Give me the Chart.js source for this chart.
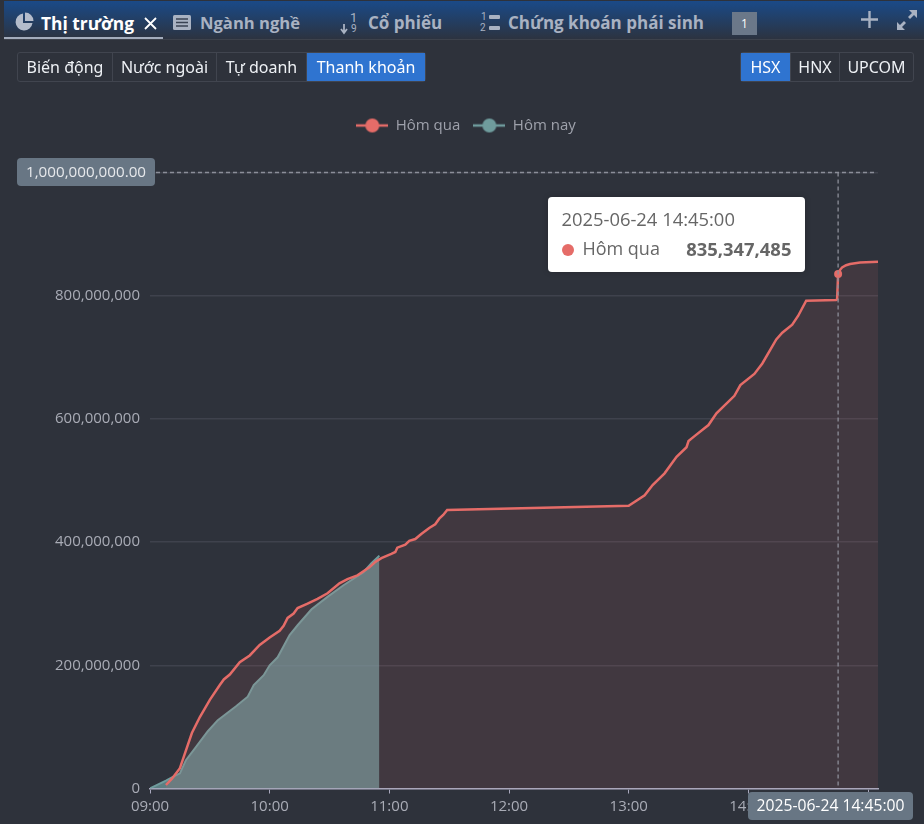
<!DOCTYPE html>
<html lang="vi">
<head>
    <meta charset="UTF-8">
    <title>Thanh khoản</title>
    <style>
        html, body { margin: 0; padding: 0; }
        body {
            width: 924px;
            height: 824px;
            overflow: hidden;
            position: relative;
            background: #2e323b;
            font-family: 'Open Sans', sans-serif;
        }
        #chartBox { position: absolute; left: 0; top: 0; width: 924px; height: 824px; }

        .topbar {
            position: absolute;
            left: 4px; right: 0; top: 1px;
            height: 38px;
            background: linear-gradient(#1a4a88, #2c3340);
            border-bottom: 1px solid #3d424c;
        }
        .tab {
            position: absolute;
            top: 1px;
            height: 38px;
            line-height: 44px;
            font-weight: bold;
            font-size: 17px;
            color: #a9b2c2;
            white-space: nowrap;
        }
        .tab.active { color: #fff; }
        .underline { position: absolute; left: 4px; top: 37px; width: 159px; height: 2px; background: #a3acbc; }
        .icon { position: absolute; }
        .badge {
            position: absolute; left: 732px; top: 12px; width: 25px; height: 23px;
            background: #6b7889; color: #fff; font-size: 12px; line-height: 23px; text-align: center;
        }

        .btns {
            position: absolute;
            top: 52px;
            height: 28px;
            display: flex;
            border: 1px solid #41454f;
            border-radius: 3px;
            font-family: 'Noto Sans', sans-serif;
            font-size: 16px;
            line-height: 29px;
            color: #eef1f5;
        }
        .btns span { text-align: center; border-left: 1px solid #41454f; box-sizing: border-box; white-space: nowrap; }
        .btns span:first-child { border-left: 0; }
        .btns span.on { background: #2f74d0; color: #fff; }

        #tip {
            position: absolute;
            background: #fff;
            border-radius: 4px;
            width: 257px;
            height: 75px;
            color: #666;
            font-size: 18.4px;
            box-shadow: 0 0 6px rgba(0,0,0,0.2);
        }
        #tip .t { position: absolute; left: 13px; top: 9px; white-space: nowrap; }
        #tip .dot { position: absolute; left: 14px; top: 47px; width: 12px; height: 12px; border-radius: 50%; background: #e56c68; }
        #tip .n { position: absolute; left: 34px; top: 39px; white-space: nowrap; font-size: 18px; }
        #tip .v { position: absolute; right: 14px; top: 39px; font-weight: bold; white-space: nowrap; }
    </style>
    <script src="https://cdn.jsdelivr.net/npm/chart.js@4/dist/chart.umd.js"></script>
</head>
<body>
    <div id="chartBox"><canvas id="liquidityChart" width="924" height="824"></canvas></div>

    <div class="topbar"></div>
    <div class="underline"></div>

    <svg class="icon" style="left:14px;top:12px" width="20" height="20" viewBox="0 0 20 20"><path d="M9 1.5a8.5 8.5 0 1 0 9.500 9.500H9z" fill="#b4bccb"/><path d="M11 0.5a8.5 8.5 0 0 1 8.500 8.500H11z" fill="#b4bccb"/></svg>
    <div class="tab active" style="left:41px;font-size:17.4px">Thị trường</div>
    <svg class="icon" style="left:144px;top:17px" width="13" height="13" viewBox="0 0 13 13"><path d="M1 1l11 11M12 1L1 12" stroke="#fff" stroke-width="1.8"/></svg>

    <svg class="icon" style="left:172px;top:14px" width="20" height="17" viewBox="0 0 20 17"><rect x="1" y="1" width="18" height="15" rx="1.5" fill="#a9b2c2"/><path d="M4 5h12M4 8.500h12M4 12h12" stroke="#3a4353" stroke-width="1.4"/></svg>
    <div class="tab" style="left:200px;font-size:16.6px">Ngành nghề</div>

    <svg class="icon" style="left:339px;top:11px" width="20" height="24" viewBox="0 0 20 24"><path d="M5 13v8M2 18l3 4 3-4" stroke="#a9b2c2" stroke-width="1.8" fill="none"/></svg>
    <div style="position:absolute;left:350px;top:10px;font:13px Roboto,sans-serif;color:#a9b2c2">1</div>
    <div style="position:absolute;left:351px;top:23px;font:10px Roboto,sans-serif;color:#a9b2c2">9</div>
    <div class="tab" style="left:368px">Cổ phiếu</div>

    <div style="position:absolute;left:481px;top:11px;font:10px Roboto,sans-serif;color:#a9b2c2">1</div>
    <div style="position:absolute;left:480px;top:22px;font:10px Roboto,sans-serif;color:#a9b2c2">2</div>
    <svg class="icon" style="left:488px;top:14px" width="12" height="17" viewBox="0 0 12 17"><rect x="1" y="1" width="11" height="4" rx="1" fill="#a9b2c2"/><rect x="1" y="12" width="11" height="4" rx="1" fill="#a9b2c2"/></svg>
    <div class="tab" style="left:508px">Chứng khoán phái sinh</div>
    <div class="badge">1</div>

    <svg class="icon" style="left:860px;top:10px" width="19" height="19" viewBox="0 0 19 19"><path d="M9.500 1v17M1 9.500h17" stroke="#a9b2c2" stroke-width="2.400"/></svg>
    <svg class="icon" style="left:896px;top:9px" width="22" height="22" viewBox="0 0 22 22"><path d="M13 1h8v8l-3-3-4 4-2-2 4-4zM1 21v-8l3 3 4-4 2 2-4 4 3 3z" fill="#a9b2c2"/></svg>

    <div class="btns" style="left:17px">
        <span style="width:94px">Biến động</span><span style="width:104px">Nước ngoài</span><span style="width:90px">Tự doanh</span><span class="on" style="width:119px">Thanh khoản</span>
    </div>
    <div class="btns" style="left:740px">
        <span class="on" style="width:49px">HSX</span><span style="width:49px">HNX</span><span style="width:74px">UPCOM</span>
    </div>

    <div id="tip" style="display:none">
        <div class="t"></div>
        <div class="dot"></div>
        <div class="n"></div>
        <div class="v"></div>
    </div>

    <script>
        const sessionDate = '2025-06-24';
        const hoverTime = '14:45';
        const axisEnd = '15:05';
        const yesterdayName = 'Hôm qua';
        const todayName = 'Hôm nay';

        const yesterdayTimes = ['09:08','09:11','09:15','09:17','09:21','09:25','09:30','09:35','09:37','09:40','09:45','09:50','09:55','10:00','10:05','10:07','10:09','10:12','10:14','10:19','10:24','10:29','10:35','10:39','10:44','10:50','10:53','10:56','11:01','11:03','11:04','11:08','11:10','11:13','11:16','11:20','11:23','11:25','11:27','11:29','13:00','13:08','13:12','13:18','13:24','13:29','13:30','13:33','13:40','13:44','13:53','13:56','14:03','14:07','14:14','14:17','14:22','14:25','14:29','14:44','14:44:30','14:45','14:46','14:47','14:49','14:51','14:56','15:05'];
        const yesterdayValues = [5700000,16000000,33000000,52000000,90000000,116000000,144000000,168000000,177000000,185000000,205000000,216000000,233000000,245000000,256000000,264000000,277000000,284000000,293000000,300000000,308000000,317000000,333000000,340000000,346000000,359000000,368000000,374000000,381000000,384000000,391000000,396000000,402000000,405000000,413000000,423000000,429000000,438000000,444000000,452000000,459000000,476000000,492600000,511600000,538500000,554000000,564000000,572000000,590000000,609000000,637500000,655000000,673000000,690000000,729000000,740000000,753000000,767500000,792000000,793000000,794000000,835347485,842000000,846000000,849500000,851500000,853800000,855000000];

        const todayTimes = ['09:00','09:08','09:11','09:15','09:18','09:23','09:29','09:34','09:43','09:49','09:52','09:57','10:00','10:04','10:10','10:14','10:21','10:29','10:37','10:47','10:51','10:55'];
        const todayValues = [300000,12700000,18000000,24600000,46000000,67000000,93000000,111000000,133000000,149000000,168000000,184000000,200000000,213000000,249000000,265000000,291000000,311000000,330000000,351000000,365600000,378000000];

        const yTicks = [0, 200000000, 400000000, 600000000, 800000000, 1000000000];

        const redLine = '#e56c68';
        const tealLine = '#6f9c9d';
        const tickColor = '#a9acb6';

        // minutes since 00:00, the x axis is linear on this
        function toMinutes(hhmm) {
            const parts = hhmm.split(':');
            return parseInt(parts[0]) * 60 + parseInt(parts[1]) + (parts[2] ? parseInt(parts[2]) / 60 : 0);
        }
        function toLabel(min) {
            const h = Math.floor(min / 60);
            const m = min % 60;
            return String(h).padStart(2, '0') + ':' + String(m).padStart(2, '0');
        }
        function toPoints(times, values) {
            return times.map((t, i) => ({ x: toMinutes(t), y: values[i] }));
        }
        const fmt = v => v.toLocaleString('en-US');

        // legend icon: short line with a dot on it
        function legendIcon(color) {
            const c = document.createElement('canvas');
            c.width = 32; c.height = 16;
            const g = c.getContext('2d');
            g.strokeStyle = color;
            g.lineWidth = 2.5;
            g.beginPath(); g.moveTo(0, 8); g.lineTo(32, 8); g.stroke();
            g.fillStyle = color;
            g.beginPath(); g.arc(16, 8, 7, 0, Math.PI * 2); g.fill();
            return c;
        }
        const icons = [legendIcon(redLine), legendIcon(tealLine)];

        function pill(ctx, x, y, w, h, text, font, color) {
            ctx.fillStyle = '#687684';
            ctx.beginPath();
            ctx.roundRect(x, y, w, h, 4);
            ctx.fill();
            ctx.fillStyle = color;
            ctx.font = font;
            ctx.textAlign = 'center';
            ctx.textBaseline = 'middle';
            ctx.fillText(text, x + w / 2, y + h / 2 + 0.5);
        }

        // dashed crosshair + the two axis pills
        const crosshair = {
            id: 'crosshair',
            beforeInit(chart) {
                const fit = chart.legend.fit;
                chart.legend.fit = function () {
                    fit.call(this);
                    this.height = 67.5;
                };
            },
            afterLayout(chart) {
                // legend sits centred on the plot side, not on the canvas
                chart.legend.left = 54;
            },
            afterDraw(chart) {
                const ctx = chart.ctx;
                const xs = chart.scales.x;
                const ys = chart.scales.y;
                const cx = xs.getPixelForValue(toMinutes(hoverTime));
                const cy = ys.getPixelForValue(1000000000);
                ctx.save();
                ctx.strokeStyle = '#8b8e99';
                ctx.lineWidth = 1.3;
                ctx.setLineDash([4, 3]);
                ctx.beginPath();
                ctx.moveTo(156, cy); ctx.lineTo(876, cy);
                ctx.moveTo(cx, cy); ctx.lineTo(cx, ys.bottom);
                ctx.stroke();
                ctx.setLineDash([]);
                pill(ctx, 17, cy - 14.5, 138, 28, '1,000,000,000.00', "15.2px 'Open Sans'", '#e6e8eb');
                pill(ctx, 748, ys.bottom + 3.5, 165, 28, sessionDate + ' ' + hoverTime + ':00', "15.7px 'Open Sans'", '#fff');
                ctx.restore();
            }
        };

        function showTip(context) {
            const tip = document.getElementById('tip');
            const model = context.tooltip;
            if (!model.dataPoints || !model.dataPoints.length) return;
            const p = model.dataPoints[0];
            tip.querySelector('.t').textContent = sessionDate + ' ' + toLabel(p.parsed.x) + ':00';
            tip.querySelector('.n').textContent = p.dataset.label;
            tip.querySelector('.v').textContent = fmt(p.parsed.y);
            tip.style.left = (p.element.x - 289.7) + 'px';
            tip.style.top = '197px';
            tip.style.display = 'block';
        }

        const chart = new Chart(document.getElementById('liquidityChart').getContext('2d'), {
            type: 'line',
            data: {
                datasets: [
                    {
                        label: yesterdayName,
                        data: toPoints(yesterdayTimes, yesterdayValues),
                        borderColor: redLine,
                        backgroundColor: 'rgba(226,109,105,0.11)',
                        borderWidth: 2.5,
                        fill: 'origin',
                        tension: 0,
                        pointRadius: 0,
                        pointHoverRadius: 4,
                        pointHoverBorderWidth: 0,
                        pointHoverBackgroundColor: redLine,
                        order: 1
                    },
                    {
                        label: todayName,
                        data: toPoints(todayTimes, todayValues),
                        borderColor: tealLine,
                        backgroundColor: 'rgba(113,160,163,0.7)',
                        borderWidth: 2,
                        fill: 'origin',
                        tension: 0,
                        pointRadius: 0,
                        pointHoverRadius: 0,
                        order: 2
                    }
                ]
            },
            options: {
                responsive: false,
                animation: false,
                events: [],
                layout: { padding: { top: 105, right: 46, left: 0, bottom: 0 } },
                font: { family: "'Open Sans'" },
                scales: {
                    x: {
                        type: 'linear',
                        min: toMinutes('09:00'),
                        max: toMinutes(axisEnd),
                        afterFit(scale) { scale.height = 35.5; },
                        border: { color: '#a9a8bd', width: 1.5 },
                        grid: { drawOnChartArea: false, tickLength: 5, color: '#a9a8bd', tickWidth: 1 },
                        ticks: {
                            stepSize: 60,
                            includeBounds: false,
                            autoSkip: false,
                            maxRotation: 0,
                            padding: 4,
                            color: tickColor,
                            font: { family: "'Open Sans'", size: 15 },
                            callback: v => toLabel(v)
                        }
                    },
                    y: {
                        min: yTicks[0],
                        max: yTicks[yTicks.length - 1],
                        afterFit(scale) { scale.width = 150; },
                        afterBuildTicks(scale) { scale.ticks = yTicks.map(v => ({ value: v })); },
                        border: { display: false },
                        grid: { color: '#3f424d', lineWidth: 1.5, drawTicks: false },
                        ticks: {
                            padding: 10,
                            color: tickColor,
                            font: { family: "'Open Sans'", size: 15 },
                            callback: v => (v === 1000000000 ? '' : fmt(v))
                        }
                    }
                },
                plugins: {
                    legend: {
                        position: 'top',
                        labels: {
                            usePointStyle: true,
                            pointStyleWidth: 32,
                            boxHeight: 15,
                            padding: 13,
                            color: '#9ea1ab',
                            font: { family: "'Open Sans'", size: 15 },
                            generateLabels(c) {
                                return Chart.defaults.plugins.legend.labels.generateLabels(c).map((item, i) => {
                                    item.pointStyle = icons[i];
                                    return item;
                                });
                            }
                        }
                    },
                    tooltip: { enabled: false, external: showTip }
                }
            },
            plugins: [crosshair]
        });

        const hoverIndex = yesterdayTimes.indexOf(hoverTime);
        const active = [{ datasetIndex: 0, index: hoverIndex }];
        chart.setActiveElements(active);
        chart.tooltip.setActiveElements(active, { x: 0, y: 0 });
        chart.update();
    </script>
</body>
</html>
